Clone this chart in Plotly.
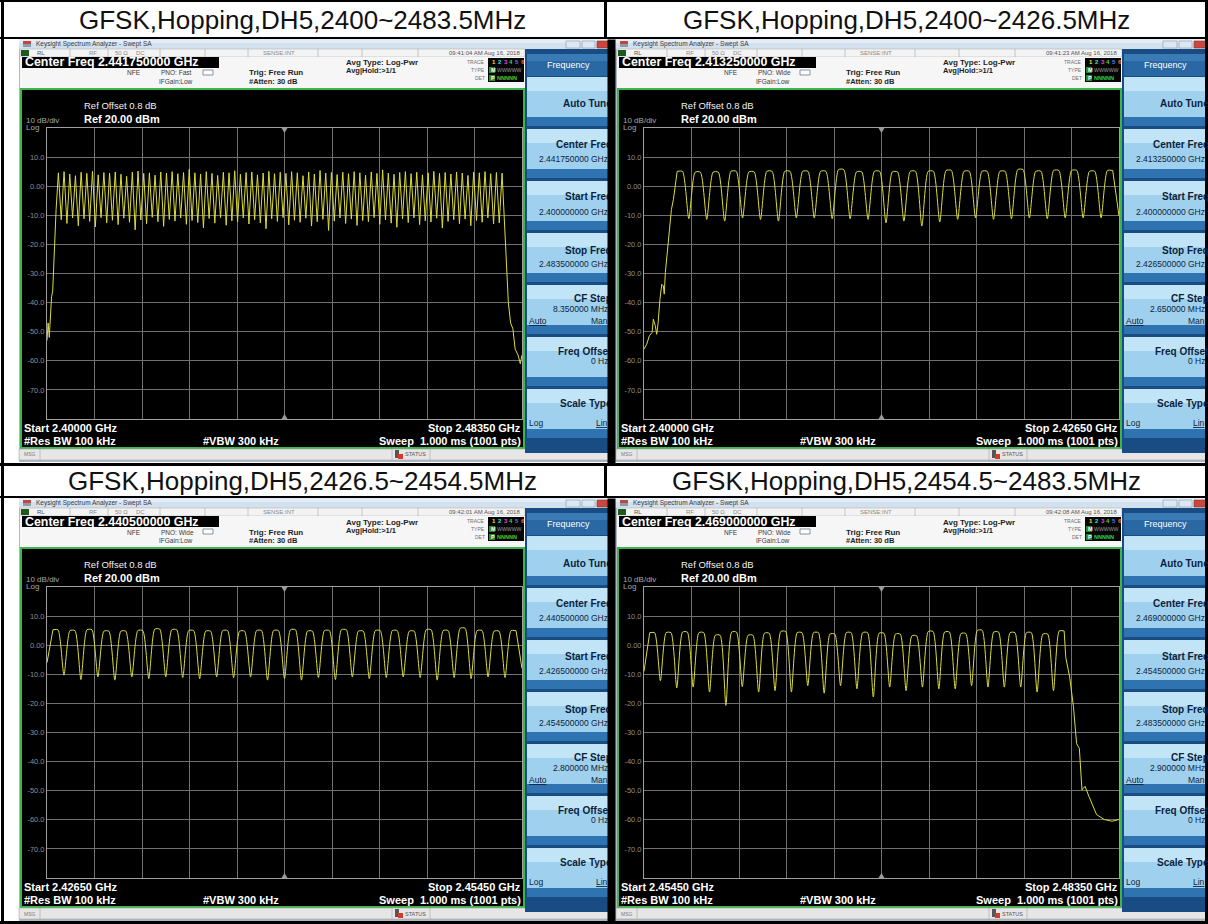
import plotly.graph_objects as go

W, H = 1208, 924
SANS = "Liberation Sans, Arial, Helvetica, sans-serif"

titles = ["GFSK,Hopping,DH5,2400~2483.5MHz", "GFSK,Hopping,DH5,2400~2426.5MHz",
          "GFSK,Hopping,DH5,2426.5~2454.5MHz", "GFSK,Hopping,DH5,2454.5~2483.5MHz"]
span_mhz = [(2400.0, 2483.5), (2400.0, 2426.5), (2426.5, 2454.5), (2454.5, 2483.5)]
start_txt = ["2.40000", "2.40000", "2.42650", "2.45450"]
stop_txt = ["2.48350", "2.42650", "2.45450", "2.48350"]
center_txt = ["2.441750000", "2.413250000", "2.440500000", "2.469000000"]
start_btn = ["2.400000000", "2.400000000", "2.426500000", "2.454500000"]
stop_btn = ["2.483500000", "2.426500000", "2.454500000", "2.483500000"]
cf_step = ["8.350000", "2.650000", "2.800000", "2.900000"]
clock = ["09:41:04 AM Aug 16, 2018", "09:41:23 AM Aug 16, 2018",
         "09:42:01 AM Aug 16, 2018", "09:42:08 AM Aug 16, 2018"]
pno = ["Fast", "Wide", "Wide", "Wide"]

y_ticks = [10, 0, -10, -20, -30, -40, -50, -60, -70]
y_tick_txt = ["10.0", "0.00", "-10.0", "-20.0", "-30.0", "-40.0", "-50.0", "-60.0", "-70.0"]

# flat part of each hopping hump, MHz either side of the channel centre (panels 2-4)
top_halfwidth = [0.0, 0.15, 0.15, 0.15]

# panel 1: 2400-2483.5 MHz, channels 2402..2480
p1_lead_mhz = [2400.0, 2400.2, 2400.4, 2400.6, 2400.8, 2401.0, 2401.3, 2401.6]
p1_lead_dbm = [-53, -47, -52, -46, -38, -36, -20, -8]
p1_channels = list(range(2402, 2481))
p1_peak_dbm = [4.6, 5.0, 4.2, 3.6, 4.8, 4.4, 5.1, 3.9, 4.7, 4.5,
               4.9, 4.1, 3.4, 4.8, 5.2, 4.4, 4.6, 3.8, 4.9, 4.5,
               5.0, 4.3, 4.7, 5.8, 4.6, 4.2, 5.0, 4.4, 3.7, 4.8,
               4.6, 5.3, 4.1, 4.7, 4.9, 3.9, 4.5, 5.1, 4.3, 4.8,
               4.4, 5.0, 4.6, 3.6, 4.9, 4.2, 5.4, 4.5, 4.7, 4.0,
               4.8, 4.3, 5.0, 4.6, 3.8, 4.9, 4.4, 5.6, 4.5, 4.1,
               4.7, 5.0, 4.3, 4.8, 3.9, 4.6, 5.1, 4.4, 4.7, 4.2,
               4.9, 4.5, 3.7, 4.8, 4.6, 5.0, 4.3, 4.7, 4.5]
p1_trough_dbm = [-11.5, -12.8, -10.9, -13.6, -11.2, -12.1, -14.0, -10.8, -12.6, -11.7,
                 -13.2, -11.0, -12.4, -15.0, -11.6, -12.9, -10.7, -12.2, -13.8, -11.4,
                 -12.0, -10.9, -13.1, -11.8, -12.5, -14.3, -11.1, -12.7, -10.8, -13.4,
                 -11.9, -12.3, -10.9, -13.0, -11.5, -12.6, -14.6, -11.2, -12.1, -10.8,
                 -13.3, -11.7, -12.4, -11.0, -13.7, -12.2, -11.4, -15.2, -12.0, -10.9,
                 -12.8, -11.3, -13.5, -11.8, -12.2, -10.8, -13.1, -11.6, -12.7, -14.1,
                 -11.2, -12.5, -10.9, -13.2, -11.9, -12.3, -11.0, -14.4, -12.1, -11.5,
                 -12.9, -11.3, -13.6, -11.8, -12.4, -10.9, -13.0, -12.6]
p1_tail_mhz = [2480.5, 2480.8, 2481.1, 2481.5, 2481.9, 2482.3, 2482.8, 2483.2, 2483.5]
p1_tail_dbm = [-14, -30, -40, -47, -49, -56, -58, -61, -58]

# panel 2: 2400-2426.5 MHz, channels 2402..2426
p2_lead_mhz = [2400.0, 2400.15, 2400.3, 2400.45, 2400.52, 2400.63, 2400.71, 2400.78, 2400.89,
               2400.99, 2401.08, 2401.13, 2401.19, 2401.3, 2401.41, 2401.53, 2401.64, 2401.75]
p2_lead_dbm = [-56, -54.3, -51.4, -50.3, -45.7, -48, -50.9, -47.4, -38.9,
               -33.7, -34.3, -37.1, -29.7, -22.9, -16, -8, -4.6, 1.7]
p2_channels = list(range(2402, 2427))
p2_peak_dbm = [5.1, 4.8, 4.8, 5.1, 4.9, 5.1, 5.1, 5.1, 5.1, 5.7, 4.9, 5.1, 4.9,
               5.1, 5.1, 5.4, 5.1, 5.1, 5.1, 5.7, 5.1, 5.4, 5.4, 5.1, 5.4]
p2_trough_dbm = [-11.2, -11.4, -12.0, -10.9, -11.4, -12.0, -10.9, -10.9, -11.2, -11.2, -11.4, -12.6,
                 -12.0, -13.7, -12.3, -11.4, -10.9, -11.4, -11.2, -10.9, -11.2, -10.9, -10.9, -10.9]
p2_tail_mhz = [2426.5]
p2_tail_dbm = [-10.3]

# panel 3: 2426.5-2454.5 MHz, channels 2427..2454
p3_lead_mhz = [2426.5]
p3_lead_dbm = [-6.0]
p3_channels = list(range(2427, 2455))
p3_peak_dbm = [5.3, 5.0, 5.3, 4.8, 4.8, 5.0, 5.5, 5.3, 5.0, 4.8, 5.0, 4.8, 5.0, 5.0,
               5.3, 4.8, 5.0, 5.3, 4.8, 5.0, 5.0, 4.8, 5.3, 5.0, 5.8, 5.0, 4.8, 5.0]
p3_trough_dbm = [-10.3, -11.8, -10.9, -12.0, -10.9, -11.5, -10.9, -11.1, -11.5, -10.9, -11.1, -10.9,
                 -12.0, -11.5, -12.0, -11.1, -11.8, -10.9, -11.5, -11.1, -10.9, -11.1, -12.0, -11.1,
                 -11.5, -10.9, -11.1]
p3_tail_mhz = [2454.5]
p3_tail_dbm = [-8.0]

# panel 4: 2454.5-2483.5 MHz, channels 2455..2480
p4_lead_mhz = [2454.5]
p4_lead_dbm = [-9.0]
p4_channels = list(range(2455, 2481))
p4_peak_dbm = [4.3, 4.3, 4.5, 4.3, 3.4, 4.5, 3.4, 4.1, 4.7, 4.3, 4.3, 3.8, 4.3,
               4.3, 4.1, 3.8, 3.2, 4.7, 4.5, 4.0, 5.1, 4.5, 4.3, 4.3, 3.8, 4.9]
p4_trough_dbm = [-12.2, -14.7, -14.4, -16.1, -20.7, -14.2, -16.1, -15.6, -16.1, -13.9, -16.5, -13.9,
                 -15.0, -17.8, -14.4, -15.6, -14.4, -15.0, -15.0, -13.9, -14.4, -14.4, -14.4, -16.1, -15.6]
p4_tail_mhz = [2480.25, 2480.49, 2480.72, 2480.91, 2481.08, 2481.24, 2481.43, 2481.66,
               2481.9, 2482.13, 2482.6, 2483.07, 2483.5]
p4_tail_dbm = [-4.2, -11, -21.2, -33.8, -35.5, -49.7, -48.5, -51.9, -55.3, -58.2, -59.9, -60.5, -59.9]


def hops(channels, peaks, troughs, half):
    # peaks sit on the channel centres (flat over +-half), troughs on the channel edges
    f, v = [], []
    for k, ch in enumerate(channels):
        if half:
            f += [ch - half, ch + half]
            v += [peaks[k], peaks[k]]
        else:
            f.append(ch)
            v.append(peaks[k])
        if k < len(troughs):
            f.append(ch + 0.5)
            v.append(troughs[k])
    return f, v


panels = [
    (p1_lead_mhz, p1_lead_dbm, p1_channels, p1_peak_dbm, p1_trough_dbm, p1_tail_mhz, p1_tail_dbm),
    (p2_lead_mhz, p2_lead_dbm, p2_channels, p2_peak_dbm, p2_trough_dbm, p2_tail_mhz, p2_tail_dbm),
    (p3_lead_mhz, p3_lead_dbm, p3_channels, p3_peak_dbm, p3_trough_dbm, p3_tail_mhz, p3_tail_dbm),
    (p4_lead_mhz, p4_lead_dbm, p4_channels, p4_peak_dbm, p4_trough_dbm, p4_tail_mhz, p4_tail_dbm),
]

# ---------------- drawing helpers (pixel -> paper) ----------------
shapes, annos = [], []


def px(x):
    return x / W


def py(y):
    return 1 - y / H


def box(x0, y0, x1, y1, fill, line=None, lw=0):
    shapes.append(dict(type="rect", xref="paper", yref="paper", layer="below",
                       x0=px(x0), x1=px(x1), y0=py(y1), y1=py(y0), fillcolor=fill,
                       line=dict(color=line or fill, width=lw)))


def seg(x0, y0, x1, y1, color, w=1):
    shapes.append(dict(type="line", xref="paper", yref="paper", layer="below",
                       x0=px(x0), x1=px(x1), y0=py(y0), y1=py(y1),
                       line=dict(color=color, width=w)))


def tri(pts, color):
    path = "M " + " L ".join(f"{px(a):.5f},{py(b):.5f}" for a, b in pts) + " Z"
    shapes.append(dict(type="path", xref="paper", yref="paper", layer="above", path=path,
                       fillcolor=color, line=dict(color=color, width=0)))


def txt(x, y, s, size, color, bold=False, xa="left"):
    annos.append(dict(x=px(x), y=py(y), xref="paper", yref="paper", text=s, showarrow=False,
                      xanchor=xa, yanchor="middle", borderpad=0,
                      font=dict(family=SANS, size=size, color=color,
                                weight="bold" if bold else "normal")))


def cover(x0, y0, x1, y1, color):
    # drawn as an annotation so it sits over text that runs past the cell edge
    annos.append(dict(x=px(x0), y=py(y0), xref="paper", yref="paper", text=" ", showarrow=False,
                      xanchor="left", yanchor="top", borderpad=0, bgcolor=color,
                      width=x1 - x0, height=y1 - y0, font=dict(size=1)))


offsets = [(0, 0), (597, 0), (0, 459), (597, 459)]
YEL = "#dcdc3a"

fig = go.Figure()

for i, (dx, dy) in enumerate(offsets):
    def X(x):
        return x + dx

    def Y(y):
        return y + dy

    right = min(611 + dx, W)
    left = 19 + dx if dx == 0 else 614

    # window frame and title bar
    box(left, Y(39), right, Y(462), "#aeb8c4")
    box(left, Y(39), right, Y(49), "#d3e0ee")
    box(left, Y(39), right, Y(43), "#e4edf7")
    box(X(23), Y(41), X(31), Y(44), "#c2463a")
    box(X(23), Y(44), X(31), Y(47), "#8d9aa8")
    txt(X(35), Y(44), "Keysight Spectrum Analyzer - Swept SA", 6.5, "#3b3b3b")
    box(X(566), Y(41), X(580), Y(48), "#dde7f1", "#8597ad", 0.6)
    box(X(582), Y(41), X(595), Y(48), "#dde7f1", "#8597ad", 0.6)
    box(X(597), Y(41), min(X(614), W), Y(48), "#c9473d", "#8a352d", 0.6)

    # status row
    box(X(20), Y(49), X(525), Y(57), "#f3f3f3", "#b5b5b5", 0.6)
    box(X(21), Y(50), X(29), Y(56), "#1e5a1e")
    for sx in [70, 108, 160, 205, 248, 318, 362, 418]:
        seg(X(sx), Y(49), X(sx), Y(57), "#b8b8b8", 0.8)
    txt(X(36), Y(53), "RL", 6, "#555555")
    txt(X(88), Y(53), "RF", 6, "#8a8a8a")
    txt(X(114), Y(53), "50 Ω", 6, "#8a8a8a")
    txt(X(135), Y(53), "DC", 6, "#8a8a8a")
    txt(X(262), Y(53), "SENSE:INT", 6, "#8a8a8a")
    txt(X(521), Y(53), clock[i], 6, "#555555", xa="right")

    # header block
    box(X(20), Y(57), X(525), Y(88), "#f6f6f6")
    box(X(22), Y(57), X(219), Y(68), "#000000")
    txt(X(24), Y(62.5), f"Center Freq {center_txt[i]} GHz", 12.4, "#ffffff", bold=True)
    txt(X(126), Y(73), "NFE", 6.5, "#3a3a3a")
    txt(X(160), Y(73), f"PNO: {pno[i]}", 6.5, "#3a3a3a")
    txt(X(158), Y(81), "IFGain:Low", 6.5, "#3a3a3a")
    box(X(203), Y(70), X(213), Y(75), "#ffffff", "#6b7a8c", 0.8)
    txt(X(248), Y(73), "Trig: Free Run", 8, "#1e1e1e", bold=True)
    txt(X(248), Y(81.5), "#Atten: 30 dB", 7.5, "#1e1e1e", bold=True)
    txt(X(345), Y(63), "Avg Type: Log-Pwr", 8, "#1e1e1e", bold=True)
    txt(X(345), Y(71), "Avg|Hold:>1/1", 7.5, "#1e1e1e", bold=True)
    txt(X(486), Y(62), "TRACE", 5, "#707070", xa="right")
    txt(X(486), Y(70), "TYPE", 5, "#707070", xa="right")
    txt(X(486), Y(78), "DET", 5, "#707070", xa="right")
    box(X(488), Y(58), X(524), Y(82), "#050505")
    for k, c in enumerate(["#e8e830", "#30e0e0", "#e040e0", "#40d840", "#5a78ff", "#ff6a3a"]):
        txt(X(491 + k * 5.8), Y(62), str(k + 1), 6, c, bold=True)
    box(X(489), Y(67), X(495), Y(73), "#2a8a2a")
    txt(X(490), Y(70), "M", 5.5, "#ffffff", bold=True)
    txt(X(496), Y(70), "WWWWW", 5.2, "#9a9a9a")
    box(X(489), Y(75), X(495), Y(81), "#2a8a2a")
    txt(X(490), Y(78), "P", 5.5, "#ffffff", bold=True)
    txt(X(496), Y(78), "NNNNN", 5.5, "#3ecf3e", bold=True)

    # plot window
    box(X(21), Y(89), X(524), Y(448), "#000000", "#3cb54a", 2)
    txt(X(83), Y(105), "Ref Offset 0.8 dB", 9.5, "#f2f2f2")
    txt(X(25), Y(120), "10 dB/div", 8, "#a8a8a8")
    txt(X(83), Y(119), "Ref 20.00 dBm", 11, "#ffffff", bold=True)
    txt(X(25), Y(127.5), "Log", 8, "#a8a8a8")
    cx = X((47 + 522) / 2)
    tri([(cx - 3, Y(128)), (cx + 3, Y(128)), (cx, Y(133))], "#9a9a9a")
    tri([(cx - 3, Y(419)), (cx + 3, Y(419)), (cx, Y(414))], "#9a9a9a")
    txt(X(23), Y(428), f"Start {start_txt[i]} GHz", 11, "#ffffff", bold=True)
    txt(X(522), Y(428), f"Stop {stop_txt[i]} GHz", 11, "#ffffff", bold=True, xa="right")
    txt(X(23), Y(441), "#Res BW 100 kHz", 11, "#ffffff", bold=True)
    txt(X(202), Y(441), "#VBW 300 kHz", 11, "#ffffff", bold=True)
    txt(X(522), Y(441), "Sweep  1.000 ms (1001 pts)", 11, "#ffffff", bold=True, xa="right")

    # message bar
    box(X(19), Y(449), right, Y(460), "#e6e6e6", "#a5a5a5", 0.6)
    seg(X(40), Y(449), X(40), Y(460), "#b5b5b5", 0.8)
    txt(X(23), Y(454.5), "MSG", 5, "#7a7a7a")
    seg(X(392), Y(449), X(392), Y(460), "#b5b5b5", 0.8)
    seg(X(430), Y(449), X(430), Y(460), "#b5b5b5", 0.8)
    box(X(395), Y(450), X(399), Y(458), "#555555")
    box(X(398), Y(454), X(403), Y(459), "#d83a2a")
    txt(X(404), Y(454.5), "STATUS", 5.5, "#555555")

    # softkey column
    box(X(525), Y(49), right, Y(453), "#1a4c84")
    box(X(527), Y(54), right, Y(76), "#2a68a3")
    box(X(527), Y(54), right, Y(61), "#3a7bb5")
    txt(X(568), Y(65), "Frequency", 9, "#ffffff", xa="center")
    for b in range(7):
        top = Y(77 + 52 * b)
        box(X(527), top, right, top + 40, "#9fd0ee")
        box(X(527), top, right, top + 14, "#c2e4f7")
        box(X(527), top + 40, right, top + 49, "#2f74b0")
    fx = X(613)
    vx = X(609)
    navy = "#0c1f3c"
    txt(fx, Y(77 + 27), "Auto Tune", 10, navy, bold=True, xa="right")
    txt(fx, Y(129 + 15), "Center Freq", 10, navy, bold=True, xa="right")
    txt(vx, Y(129 + 30), f"{center_txt[i]} GHz", 8.5, navy, xa="right")
    txt(fx, Y(181 + 16), "Start Freq", 10, navy, bold=True, xa="right")
    txt(vx, Y(181 + 31), f"{start_btn[i]} GHz", 8.5, navy, xa="right")
    txt(fx, Y(233 + 17), "Stop Freq", 10, navy, bold=True, xa="right")
    txt(vx, Y(233 + 31), f"{stop_btn[i]} GHz", 8.5, navy, xa="right")
    txt(fx, Y(285 + 13), "CF Step", 10, navy, bold=True, xa="right")
    txt(vx, Y(285 + 24), f"{cf_step[i]} MHz", 8.5, navy, xa="right")
    txt(X(528), Y(285 + 36), "<u>Auto</u>", 8.5, navy)
    txt(vx, Y(285 + 36), "Man", 8.5, navy, xa="right")
    txt(fx, Y(337 + 14), "Freq Offset", 10, navy, bold=True, xa="right")
    txt(vx, Y(337 + 24), "0 Hz", 8.5, navy, xa="right")
    txt(fx, Y(389 + 14), "Scale Type", 10, navy, bold=True, xa="right")
    txt(X(528), Y(389 + 34), "Log", 8.5, navy)
    txt(vx, Y(389 + 34), "<u>Lin</u>", 8.5, navy, xa="right")

    # spectrum trace on its own axes
    n = "" if i == 0 else str(i + 1)
    f0, f1 = span_mhz[i]
    fig.update_layout(**{
        "xaxis" + n: dict(domain=[px(X(47)), px(X(522))], anchor="y" + n, range=[f0, f1],
                          tick0=f0, dtick=(f1 - f0) / 10, showgrid=True, gridcolor="#707070",
                          gridwidth=1, zeroline=False, showticklabels=False, ticks="",
                          showline=True, linecolor="#a0a0a0", linewidth=1, mirror=True,
                          fixedrange=True),
        "yaxis" + n: dict(domain=[py(Y(419)), py(Y(128))], anchor="x" + n, range=[-80, 20],
                          tickvals=y_ticks, ticktext=y_tick_txt, showgrid=True,
                          gridcolor="#707070", gridwidth=1, zeroline=False, ticks="",
                          tickfont=dict(family=SANS, size=7.5, color="#8e8e8e"),
                          showline=True, linecolor="#a0a0a0", linewidth=1, mirror=True,
                          fixedrange=True),
    })
    lead_f, lead_v, chans, peaks, troughs, tail_f, tail_v = panels[i]
    body_f, body_v = hops(chans, peaks, troughs, top_halfwidth[i])
    # skirts drawn straight, the hopping comb smoothed
    for xs, ys, shape in [(lead_f + body_f[:1], lead_v + body_v[:1], "linear"),
                          (body_f, body_v, "linear" if i == 0 else "spline"),
                          (body_f[-1:] + tail_f, body_v[-1:] + tail_v, "linear")]:
        fig.add_trace(go.Scatter(
            x=xs, y=ys, xaxis="x" + n, yaxis="y" + n, mode="lines",
            line=dict(color=YEL, width=1, shape=shape, smoothing=0.6),
            hoverinfo="skip", showlegend=False))

# ---------------- table: title cells and rules ----------------
txt(302, 20, titles[0], 26, "#111111", xa="center")
txt(906, 20, titles[1], 26, "#111111", xa="center")
txt(302, 481.5, titles[2], 26, "#111111", xa="center")
txt(906, 481.5, titles[3], 26, "#111111", xa="center")

black = "#000000"
box(0, 0, W, 2, black)
box(0, 921, W, H, black)
box(1, 0, 4, H, black)
box(1205, 0, W, H, black)
box(0, 37, W, 39, black)
box(0, 463, W, 466, black)
box(0, 496, W, 498, black)
box(604, 0, 607, 39, black)
box(604, 463, 607, 498, black)
# column rule in the picture rows, laid over the clipped soft-key text
cover(607, 39, 614, 463, black)
cover(607, 498, 614, 921, black)

fig.update_layout(
    width=W, height=H, margin=dict(l=0, r=0, t=0, b=0),
    paper_bgcolor="#ffffff", plot_bgcolor="#000000",
    shapes=shapes, annotations=annos, showlegend=False,
)

fig.write_html("out.html", config={"displayModeBar": False, "staticPlot": True},
               post_script="document.body.style.margin='0';document.body.style.overflow='hidden';")
